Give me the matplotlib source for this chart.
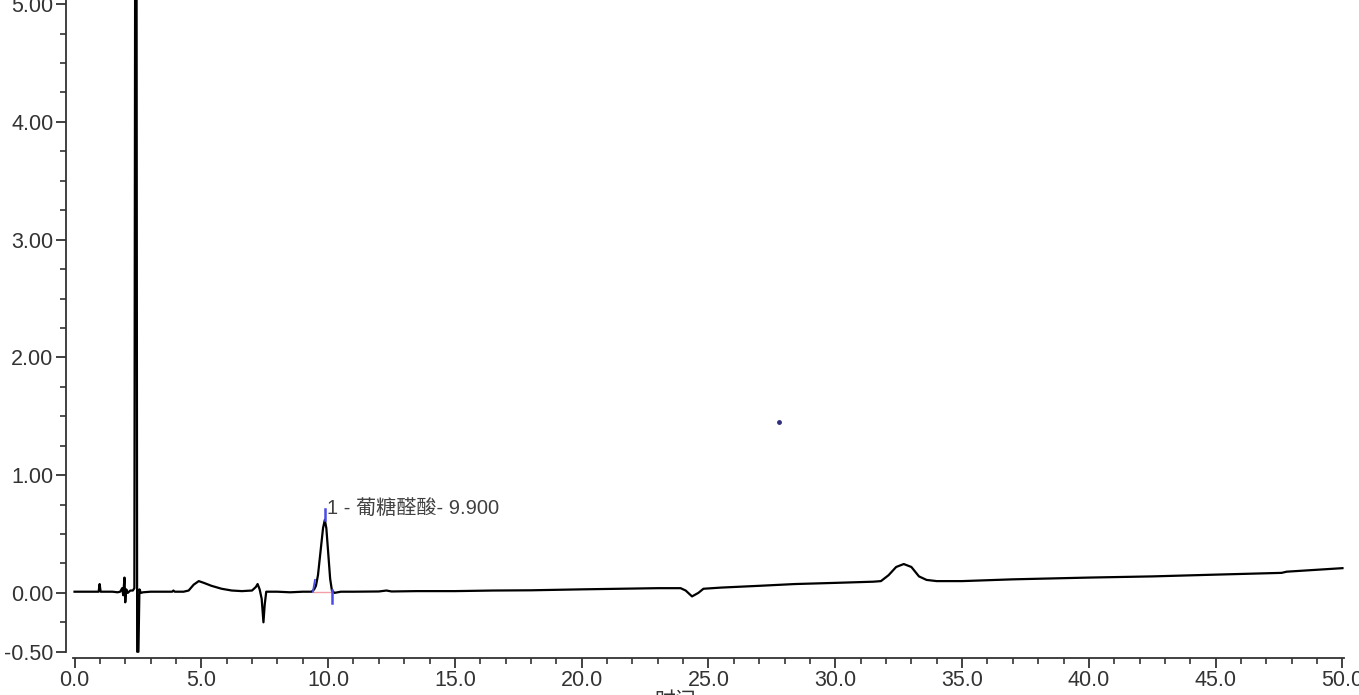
import numpy as np
import matplotlib
matplotlib.use("Agg")
import matplotlib.pyplot as plt
from matplotlib.ticker import MultipleLocator, FixedLocator

plt.rcParams['font.family'] = ['Liberation Sans', 'Noto Sans CJK SC', 'DejaVu Sans']

# ---- data ----
time_min = [0.0, 0.5, 0.95, 0.99, 1.03, 1.5, 1.7, 1.8, 1.88, 1.92, 1.97, 2.0, 2.04, 2.1,
            2.2, 2.3, 2.36, 2.40, 2.44, 2.47, 2.52, 2.56, 2.62, 2.7, 3.0, 3.5, 3.85, 3.9,
            3.95, 4.3, 4.5, 4.7, 4.9, 5.1, 5.4, 5.8, 6.2, 6.6, 7.0, 7.15, 7.22, 7.3, 7.38,
            7.45, 7.5, 7.56, 8.0, 8.5, 9.0, 9.35, 9.45, 9.52, 9.6, 9.7, 9.8, 9.87, 9.93,
            10.0, 10.08, 10.15, 10.25, 10.5, 11.0, 12.0, 12.3, 12.5, 13.5, 15.0, 16.5,
            18.0, 19.5, 20.0, 21.5, 23.0, 23.9, 24.1, 24.35, 24.6, 24.8, 25.5, 27.0,
            28.4, 30.0, 31.5, 31.8, 32.1, 32.4, 32.7, 33.0, 33.3, 33.6, 34.0, 35.0, 37.0,
            40.0, 42.5, 45.0, 47.6, 47.8, 50.0]
signal = [0.01, 0.01, 0.01, 0.075, 0.01, 0.01, 0.005, 0.01, 0.04, -0.02, 0.13, -0.08, 0.03, 0.0,
          0.02, 0.02, 0.04, 7.0, 7.0, -0.5, -0.5, 0.03, 0.0, 0.005, 0.01, 0.01, 0.01, 0.02,
          0.01, 0.01, 0.02, 0.07, 0.10, 0.085, 0.06, 0.035, 0.02, 0.015, 0.02, 0.05, 0.075, 0.03, -0.05,
          -0.25, -0.1, 0.01, 0.01, 0.005, 0.01, 0.01, 0.03, 0.06, 0.15, 0.35, 0.55, 0.62, 0.55,
          0.35, 0.12, 0.02, 0.0, 0.01, 0.01, 0.012, 0.02, 0.012, 0.015, 0.015, 0.02,
          0.022, 0.028, 0.03, 0.035, 0.04, 0.04, 0.02, -0.03, 0.0, 0.035, 0.045, 0.06,
          0.075, 0.085, 0.095, 0.10, 0.15, 0.22, 0.245, 0.22, 0.14, 0.11, 0.10, 0.10, 0.115,
          0.13, 0.14, 0.155, 0.17, 0.18, 0.21]

peak_label = "1 - 葡糖醛酸- 9.900"
peak_time = 9.87
peak_start = 9.40
peak_end = 10.15

xticks = [0.0, 5.0, 10.0, 15.0, 20.0, 25.0, 30.0, 35.0, 40.0, 45.0, 50.0]
xtick_labels = ["0.0", "5.0", "10.0", "15.0", "20.0", "25.0", "30.0", "35.0", "40.0", "45.0", "50.0"]
yticks = [-0.5, 0.0, 1.0, 2.0, 3.0, 4.0, 5.0]
ytick_labels = ["-0.50", "0.00", "1.00", "2.00", "3.00", "4.00", "5.00"]

# ---- figure ----
W, H = 1359, 695
fig = plt.figure(figsize=(W / 100, H / 100), dpi=100)
ax = fig.add_axes([73 / W, (H - 658) / H, (1344 - 73) / W, 658 / H])

axis_col = '#333333'
ax.plot(time_min, signal, color='black', lw=1.6, solid_joinstyle='round', zorder=3)

# integration marks
ax.plot([peak_start, peak_end], [0.01, 0.01], color='#f2a0a8', lw=1.0, zorder=2)
ax.plot([peak_start, peak_start + 0.08], [0.01, 0.11], color='#4a4ae8', lw=1.3, zorder=4)
ax.plot([peak_time, peak_time], [0.62, 0.71], color='#4a4ae8', lw=1.8, zorder=4)
ax.plot([peak_end, peak_end], [0.025, -0.085], color='#4a4ae8', lw=1.8, zorder=4)
ax.plot([27.77], [1.447], marker='o', ms=2.5, color='#303080', zorder=4)

ax.text(peak_time + 0.08, 0.635, peak_label, fontsize=14.5, color='#404040',
        family=['Liberation Sans', 'Noto Sans CJK SC'], ha='left', va='bottom')

ax.set_xlim(-0.06, 50.06)
ax.set_ylim(-0.553, 5.035)

for s in ['top', 'right']:
    ax.spines[s].set_visible(False)
ax.spines['left'].set_position(('outward', 5))
ax.spines['left'].set_bounds(-0.5, 5.035)
for s in ['left', 'bottom']:
    ax.spines[s].set_color(axis_col)
    ax.spines[s].set_linewidth(1.3)

ax.xaxis.set_major_locator(FixedLocator(xticks))
ax.set_xticklabels(xtick_labels)
ax.xaxis.set_minor_locator(MultipleLocator(1.0))
ax.yaxis.set_major_locator(FixedLocator(yticks))
ax.set_yticklabels(ytick_labels)
ax.yaxis.set_minor_locator(MultipleLocator(0.25))

ax.tick_params(axis='both', which='major', direction='out', length=7, width=1.3,
               color=axis_col, labelcolor='#333333', labelsize=15.5)
ax.tick_params(axis='both', which='minor', direction='out', length=4, width=1.2, color=axis_col)
ax.tick_params(axis='x', which='major', pad=2)
ax.tick_params(axis='y', which='major', pad=2)

fig.text(675 / W, 1 - 690 / H, "时间", fontsize=15, color='#333333',
         family=['Noto Sans CJK SC'], ha='center', va='top')

fig.savefig('out.png', dpi=100)
